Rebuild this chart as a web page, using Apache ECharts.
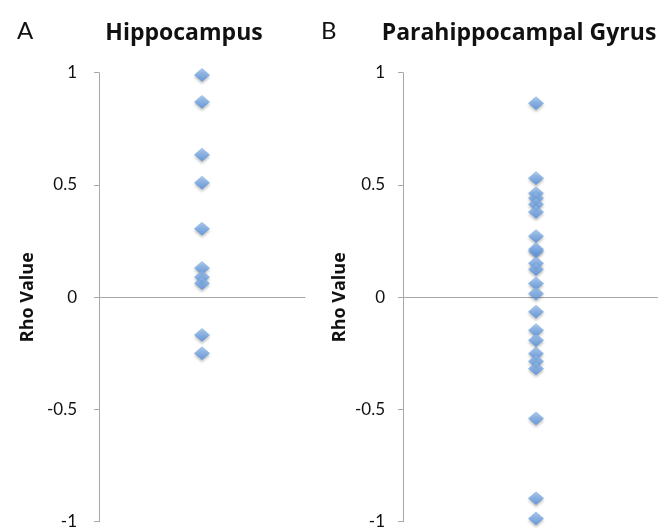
<!DOCTYPE html>
<html>
<head>
    <meta charset="utf-8"/>
    <title>Rho Value</title>
    <script src="https://cdn.jsdelivr.net/npm/echarts@6/dist/echarts.min.js"></script>
    <style>
        html, body { margin: 0; padding: 0; background: #fff; }
        #chart { width: 658px; height: 532px; }
    </style>
</head>
<body>
<div id="chart"></div>
<script type="text/javascript">
    // rho values
    var hippocampus = [0.99, 0.87, 0.635, 0.51, 0.305, 0.13, 0.09, 0.062, -0.168, -0.25];
    var parahippocampal = [0.864, 0.53, 0.463, 0.441, 0.414, 0.38, 0.272, 0.214, 0.205, 0.151,
        0.125, 0.061, 0.016, -0.065, -0.147, -0.192, -0.251, -0.285, -0.318, -0.54, -0.896, -0.986];
    var panelTitles = ['Hippocampus', 'Parahippocampal Gyrus'];
    var panelLetters = ['A', 'B'];
    var yName = 'Rho Value';

    var chart = echarts.init(document.getElementById('chart'));
    var font = 'Lato, "Open Sans", sans-serif';
    var boldFont = '"Open Sans", Lato, sans-serif';
    var grey = '#a8a8a8';

    var markerStyle = {
        color: new echarts.graphic.LinearGradient(0, 0, 0, 1, [
            { offset: 0, color: '#9fc6f4' },
            { offset: 1, color: '#4f8cdb' }
        ]),
        borderColor: '#5c93d6',
        borderWidth: 0.5,
        shadowColor: 'rgba(0,0,0,0.3)',
        shadowBlur: 3,
        shadowOffsetY: 2
    };

    function yAxis(idx, margin, gap) {
        return {
            gridIndex: idx,
            type: 'value',
            min: -1,
            max: 1,
            interval: 0.5,
            name: yName,
            nameLocation: 'middle',
            nameGap: gap,
            nameTextStyle: { fontFamily: boldFont, fontWeight: 'bold', fontSize: 18, color: '#111' },
            axisLine: { show: true, lineStyle: { color: grey, width: 1 } },
            axisTick: { show: true, inside: false, length: 5, lineStyle: { color: grey } },
            axisLabel: { margin: margin, fontFamily: font, fontSize: 17, color: '#111' },
            splitLine: { show: false }
        };
    }

    function xAxis(idx, max) {
        return {
            gridIndex: idx,
            type: 'value',
            min: 0,
            max: max,
            axisLine: { show: true, onZero: true, lineStyle: { color: grey, width: 1 } },
            axisTick: { show: false },
            axisLabel: { show: false },
            splitLine: { show: false }
        };
    }

    function points(vals) {
        return vals.map(function (v) { return [1, v]; });
    }

    var letterStyle = { fontFamily: 'Lato, sans-serif', fontWeight: 'normal', fontSize: 24, color: '#111' };
    var titleStyle = { fontFamily: boldFont, fontWeight: 'bold', fontSize: 23, color: '#111' };

    var option = {
        animation: false,
        title: [
            { text: panelLetters[0], left: 12, top: 14, textStyle: letterStyle },
            { text: panelLetters[1], left: 316, top: 14, textStyle: letterStyle },
            { text: panelTitles[0], left: 179, textAlign: 'center', top: 17, textStyle: titleStyle },
            { text: panelTitles[1], left: 514, textAlign: 'center', top: 17, textStyle: titleStyle }
        ],
        grid: [
            { left: 99, top: 72.7, width: 206, bottom: 10.3 },
            { left: 403, top: 72.7, right: 0, bottom: 10.3 }
        ],
        xAxis: [xAxis(0, 2), xAxis(1, 1.917)],
        yAxis: [yAxis(0, 22, 62), yAxis(1, 18, 54)],
        series: [
            {
                type: 'scatter',
                xAxisIndex: 0,
                yAxisIndex: 0,
                symbol: 'diamond',
                symbolSize: [15, 13],
                itemStyle: markerStyle,
                data: points(hippocampus)
            },
            {
                type: 'scatter',
                xAxisIndex: 1,
                yAxisIndex: 1,
                symbol: 'diamond',
                symbolSize: [15, 13],
                itemStyle: markerStyle,
                data: points(parahippocampal)
            }
        ]
    };
    chart.setOption(option);
</script>
</body>
</html>
